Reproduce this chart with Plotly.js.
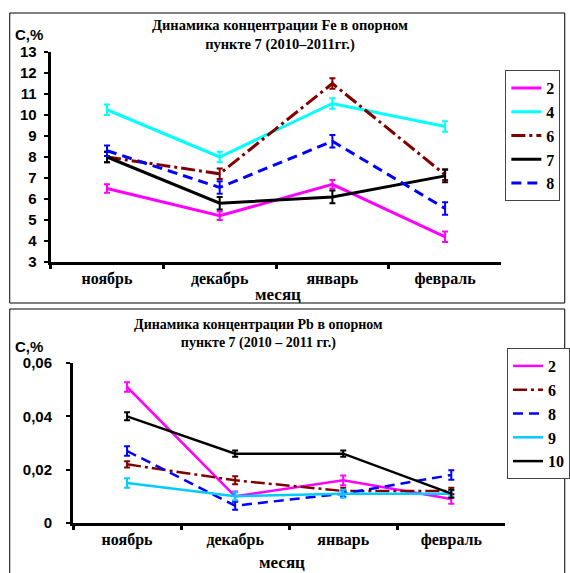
<!DOCTYPE html>
<html><head><meta charset="utf-8">
<script src="https://cdn.plot.ly/plotly-3.0.1.min.js"></script>
<style>html,body{margin:0;padding:0;background:#fff}</style>
</head><body><div id="chart" style="width:570px;height:573px"></div>
<script>
// ---- categories ----
const months = ['ноябрь', 'декабрь', 'январь', 'февраль'];

// ---- Fe chart (top) ----
const feTitle = 'Динамика концентрации Fe в опорном<br>пункте 7 (2010–2011гг.)';
const fe2 = [6.5, 5.2, 6.7, 4.2];
const fe4 = [10.25, 8.0, 10.55, 9.45];
const fe6 = [8.0, 7.2, 11.5, 7.15];
const fe7 = [8.0, 5.8, 6.1, 7.1];
const fe8 = [8.3, 6.55, 8.75, 5.55];
const fe2Err = [0.2, 0.2, 0.2, 0.25];
const fe4Err = [0.25, 0.25, 0.25, 0.25];
const fe6Err = [0.25, 0.25, 0.25, 0.25];
const fe7Err = [0.25, 0.3, 0.3, 0.3];
const fe8Err = [0.25, 0.3, 0.3, 0.3];

// ---- Pb chart (bottom) ----
const pbTitle = 'Динамика концентрации Pb в опорном<br>пункте 7 (2010 – 2011 гг.)';
const pb2 = [0.051, 0.010, 0.016, 0.009];
const pb6 = [0.022, 0.016, 0.012, 0.012];
const pb8 = [0.027, 0.0065, 0.011, 0.018];
const pb9 = [0.015, 0.010, 0.011, 0.011];
const pb10 = [0.040, 0.026, 0.026, 0.011];
const pb2Err = [0.0018, 0.0018, 0.0018, 0.0018];
const pb6Err = [0.0012, 0.0015, 0.0012, 0.0012];
const pb8Err = [0.0018, 0.0015, 0.0012, 0.0018];
const pb9Err = [0.0018, 0.0015, 0.0015, 0.0012];
const pb10Err = [0.0015, 0.0012, 0.0012, 0.0015];

const W = 570, H = 573;
const px = v => v / W;
const py = v => 1 - v / H;

function tr(x, y, err, name, color, dash, xa, ya, leg, width) {
  return {
    type: 'scatter', mode: 'lines', x: x, y: y, name: name,
    xaxis: xa, yaxis: ya, legend: leg,
    line: {color: color, width: width || 3, dash: dash},
    error_y: {type: 'data', array: err, visible: true, color: color, thickness: 2, width: 3}
  };
}

const DASHDOT = '14px,4px,3px,4px';
const DASH = '10px,6px';

const data = [
  tr(months, fe2, fe2Err, '2', '#ff00ff', 'solid', 'x', 'y', 'legend'),
  tr(months, fe4, fe4Err, '4', '#00ffff', 'solid', 'x', 'y', 'legend'),
  tr(months, fe6, fe6Err, '6', '#800000', DASHDOT, 'x', 'y', 'legend'),
  tr(months, fe7, fe7Err, '7', '#000000', 'solid', 'x', 'y', 'legend'),
  tr(months, fe8, fe8Err, '8', '#0000ff', DASH, 'x', 'y', 'legend'),
  tr(months, pb2, pb2Err, '2', '#ff00ff', 'solid', 'x2', 'y2', 'legend2', 2.5),
  tr(months, pb6, pb6Err, '6', '#800000', DASHDOT, 'x2', 'y2', 'legend2', 2.5),
  tr(months, pb8, pb8Err, '8', '#0000ff', DASH, 'x2', 'y2', 'legend2', 2.5),
  tr(months, pb9, pb9Err, '9', '#00ccff', 'solid', 'x2', 'y2', 'legend2', 2.5),
  tr(months, pb10, pb10Err, '10', '#000000', 'solid', 'x2', 'y2', 'legend2', 2.5)
];

const sansB = {family: 'Liberation Sans, Arial, sans-serif', size: 15, color: '#000', weight: 'bold'};
const serifB = {family: 'Liberation Serif, Times New Roman, serif', size: 16, color: '#000', weight: 'bold'};

function xaxis(dom, anchor) {
  return {
    domain: dom, anchor: anchor, type: 'category', categoryarray: months,
    range: [-0.5, 3.5], showgrid: false, zeroline: false,
    showline: true, linecolor: '#000', linewidth: 3,
    ticks: 'outside', tickson: 'boundaries', ticklen: 4, tickwidth: 3, tickcolor: '#000',
    tickfont: serifB, fixedrange: true
  };
}
function yaxis(dom, anchor, range, dtick, standoff) {
  return {
    domain: dom, anchor: anchor, range: range, dtick: dtick,
    showgrid: false, zeroline: false, showline: true, linecolor: '#000', linewidth: 3,
    ticks: 'outside', ticklen: 4, tickwidth: 2, tickcolor: '#000',
    ticklabelstandoff: standoff,
    tickfont: sansB, fixedrange: true
  };
}

const legendBase = {
  bgcolor: '#fff', bordercolor: '#444', borderwidth: 1,
  font: {family: 'Liberation Serif, Times New Roman, serif', size: 16, color: '#000', weight: 'bold'},
  itemwidth: 30, xanchor: 'left', yanchor: 'top', traceorder: 'normal', itemclick: false
};

const layout = {
  width: W, height: H,
  margin: {l: 0, r: 0, t: 0, b: 0},
  paper_bgcolor: '#fff', plot_bgcolor: '#fff',
  separators: ', ',
  showlegend: true,
  xaxis: xaxis([px(52), px(515)], 'y'),
  yaxis: yaxis([py(262), py(52)], 'x', [3, 13], 1, 4),
  xaxis2: xaxis([px(75), px(519)], 'y2'),
  yaxis2: yaxis([py(523), py(363)], 'x2', [0, 0.06], 0.02, 11),
  legend: Object.assign({}, legendBase, {x: px(519), y: py(70)}),
  legend2: Object.assign({}, legendBase, {x: px(521), y: py(348)}),
  shapes: [
    {type: 'rect', xref: 'paper', yref: 'paper', x0: px(10), x1: px(580), y0: py(303), y1: py(13),
     line: {color: '#000', width: 1}},
    {type: 'rect', xref: 'paper', yref: 'paper', x0: px(10), x1: px(580), y0: py(580), y1: py(309),
     line: {color: '#000', width: 1}}
  ],
  annotations: [
    {text: feTitle, xref: 'paper', yref: 'paper', x: px(288), y: py(35), xanchor: 'center', yanchor: 'middle',
     showarrow: false, font: {family: 'Liberation Serif, Times New Roman, serif', size: 14.5, weight: 'bold', color: '#000'}},
    {text: pbTitle, xref: 'paper', yref: 'paper', x: px(265), y: py(334), xanchor: 'center', yanchor: 'middle',
     showarrow: false, font: {family: 'Liberation Serif, Times New Roman, serif', size: 14, weight: 'bold', color: '#000'}},
    {text: 'С,%', xref: 'paper', yref: 'paper', x: px(30), y: py(35), xanchor: 'center', yanchor: 'middle',
     showarrow: false, font: {family: 'Liberation Sans, Arial, sans-serif', size: 15, weight: 'bold', color: '#000'}},
    {text: 'С,%', xref: 'paper', yref: 'paper', x: px(30), y: py(346), xanchor: 'center', yanchor: 'middle',
     showarrow: false, font: {family: 'Liberation Sans, Arial, sans-serif', size: 15, weight: 'bold', color: '#000'}},
    {text: 'месяц', xref: 'paper', yref: 'paper', x: px(285), y: py(294), xanchor: 'center', yanchor: 'middle',
     showarrow: false, font: {family: 'Liberation Serif, Times New Roman, serif', size: 17, weight: 'bold', color: '#000'}},
    {text: 'месяц', xref: 'paper', yref: 'paper', x: px(290), y: py(562), xanchor: 'center', yanchor: 'middle',
     showarrow: false, font: {family: 'Liberation Serif, Times New Roman, serif', size: 17, weight: 'bold', color: '#000'}}
  ]
};

Plotly.newPlot('chart', data, layout, {displayModeBar: false, staticPlot: true});
</script>
</body></html>
